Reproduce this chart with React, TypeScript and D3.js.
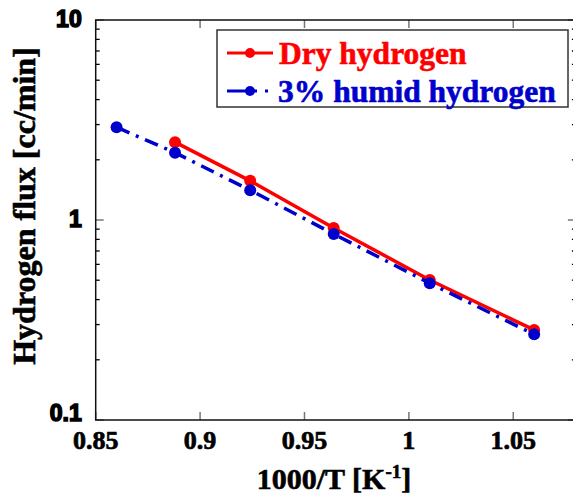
import React from "react";
import * as d3 from "d3";

// Inverse temperature (1000/T, K^-1) and hydrogen flux (cc/min)
const dryX = [0.888, 0.924, 0.964, 1.01, 1.06];
const dryFlux = [2.45, 1.57, 0.912, 0.501, 0.282];
const humidX = [0.86, 0.888, 0.924, 0.964, 1.01, 1.06];
const humidFlux = [2.91, 2.17, 1.41, 0.851, 0.483, 0.268];

const xTicks = [0.85, 0.9, 0.95, 1, 1.05];
const xTickLabels = ["0.85", "0.9", "0.95", "1", "1.05"];
const yTicks = [0.1, 1, 10];
const yTickLabels = ["0.1", "1", "10"];
const seriesNames = ["Dry hydrogen", "3% humid hydrogen"];

const W = 573;
const H = 498;
const left = 95.7;
const right = 575.9;
const top = 20;
const bottom = 420;

const RED = "#ff0000";
const BLUE = "#0000cc";
const DASH = "14,7,3,7";
const serif = "'Liberation Serif', 'Times New Roman', serif";
const sans = "Arial, 'Liberation Sans', sans-serif";

const heavy = (fill: string, w: number): React.CSSProperties => ({
  fontWeight: 700,
  fill,
  stroke: fill,
  strokeWidth: w,
  paintOrder: "stroke",
});

export default function App() {
  const x = d3.scaleLinear().domain([0.85, 1.08]).range([left, right]);
  const y = d3.scaleLog().domain([0.1, 10]).range([bottom, top]);

  const line = d3
    .line<[number, number]>()
    .x((d) => x(d[0]))
    .y((d) => y(d[1]));

  const dryPts: [number, number][] = dryX.map((v, i) => [v, dryFlux[i]]);
  const humidPts: [number, number][] = humidX.map((v, i) => [v, humidFlux[i]]);

  const minor: number[] = [];
  for (const dec of [0.1, 1]) {
    for (let k = 2; k <= 9; k++) minor.push(dec * k);
  }

  return (
    <div style={{ position: "absolute", left: 0, top: 0 }}>
      <svg width={W} height={H} style={{ display: "block", background: "#fff" }}>
        {/* y minor ticks, left and right */}
        {minor.map((v) => (
          <g key={"m" + v}>
            <line x1={left} x2={left + 4} y1={y(v)} y2={y(v)} stroke="#000" strokeWidth={1.3} />
            <line x1={right} x2={right - 4} y1={y(v)} y2={y(v)} stroke="#000" strokeWidth={1.3} />
          </g>
        ))}
        {/* y major ticks */}
        {yTicks.map((v) => (
          <g key={"M" + v}>
            <line x1={left} x2={left + 8} y1={y(v)} y2={y(v)} stroke="#777" strokeWidth={1.5} />
            <line x1={right} x2={right - 8} y1={y(v)} y2={y(v)} stroke="#777" strokeWidth={1.5} />
          </g>
        ))}
        {/* x ticks, bottom and top */}
        {xTicks.map((v) => (
          <g key={"x" + v}>
            <line x1={x(v)} x2={x(v)} y1={bottom} y2={bottom - 8} stroke="#777" strokeWidth={1.5} />
            <line x1={x(v)} x2={x(v)} y1={top} y2={top + 8} stroke="#777" strokeWidth={1.5} />
          </g>
        ))}
        {/* frame */}
        <rect x={left} y={top} width={right - left} height={bottom - top} fill="none" stroke="#111" strokeWidth={1.5} />

        {/* y tick labels */}
        {yTicks.map((v, i) => (
          <text
            key={"yl" + v}
            x={left - 14}
            y={Math.min(y(v) + 7, bottom + 1)}
            textAnchor="end"
            fontFamily={sans}
            fontSize={23}
            style={heavy("#000", 1.5)}
          >
            {yTickLabels[i]}
          </text>
        ))}
        {/* x tick labels */}
        {xTicks.map((v, i) => (
          <text
            key={"xl" + v}
            x={x(v)}
            y={449}
            textAnchor="middle"
            fontFamily={serif}
            fontSize={26}
            style={heavy("#000", 0.7)}
          >
            {xTickLabels[i]}
          </text>
        ))}

        {/* axis titles */}
        <text x={334} y={489} textAnchor="middle" fontFamily={serif} fontSize={30} style={heavy("#000", 0.6)}>
          1000/T [K
          <tspan dy={-11} fontSize={19}>-1</tspan>
          <tspan dy={11}>]</tspan>
        </text>
        <text
          transform={`translate(35, 206) rotate(-90)`}
          textAnchor="middle"
          fontFamily={serif}
          fontSize={32}
          style={heavy("#000", 0.6)}
        >
          Hydrogen flux [cc/min]
        </text>

        {/* series */}
        <path d={line(dryPts) ?? ""} fill="none" stroke={RED} strokeWidth={3.5} />
        {dryPts.map((p, i) => (
          <circle key={"d" + i} cx={x(p[0])} cy={y(p[1])} r={6} fill={RED} />
        ))}
        <path d={line(humidPts) ?? ""} fill="none" stroke={BLUE} strokeWidth={3.5} strokeDasharray={DASH} />
        {humidPts.map((p, i) => (
          <circle key={"h" + i} cx={x(p[0])} cy={y(p[1])} r={6} fill={BLUE} />
        ))}

        {/* legend */}
        <rect x={217} y={30} width={351} height={77} fill="#fff" stroke="#333" strokeWidth={1.5} />
        <line x1={227} x2={273} y1={53} y2={53} stroke={RED} strokeWidth={3} />
        <circle cx={250} cy={53} r={5} fill={RED} />
        <text x={279} y={64} fontFamily={serif} fontSize={31.5} style={heavy(RED, 0.6)}>
          {seriesNames[0]}
        </text>
        <line x1={227} x2={273} y1={91} y2={91} stroke={BLUE} strokeWidth={3} strokeDasharray="30,8,3,8" />
        <circle cx={250} cy={91} r={5} fill={BLUE} />
        <text x={278} y={102} fontFamily={serif} fontSize={31.5} style={heavy(BLUE, 0.6)}>
          {seriesNames[1]}
        </text>
      </svg>
    </div>
  );
}
